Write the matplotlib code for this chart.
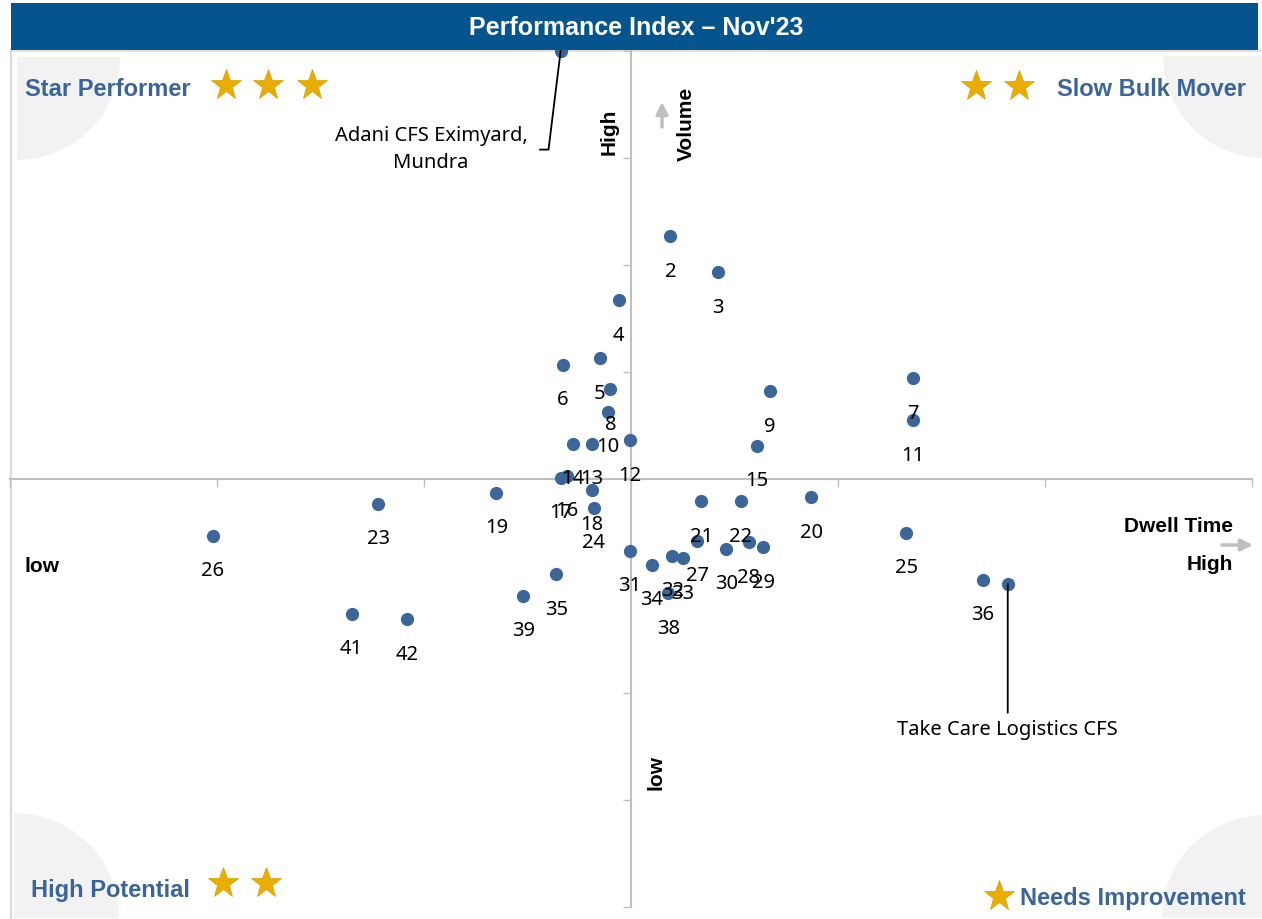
import matplotlib
matplotlib.use("Agg")
import matplotlib.pyplot as plt
from matplotlib.patches import Wedge, Rectangle

plt.rcParams['font.family'] = ['Liberation Sans', 'DejaVu Sans']

# Données (unités normalisées : temps de séjour / volume)
ids = ['2', '3', '4', '5', '6', '7', '8', '9', '10', '11', '12', '13', '14', '15',
       '16', '17', '18', '19', '20', '21', '22', '23', '24', '25', '26', '27', '28',
       '29', '30', '31', '32', '33', '34', '35', '36', '38', '39', '41', '42']
dwell = [0.19, 0.42, -0.06, -0.15, -0.33, 1.36, -0.10, 0.67, -0.11, 1.36, -0.005, -0.19,
         -0.28, 0.61, -0.31, -0.34, -0.19, -0.65, 0.87, 0.34, 0.53, -1.22, -0.18, 1.33,
         -2.02, 0.32, 0.57, 0.64, 0.46, -0.005, 0.20, 0.25, 0.10, -0.36, 1.70, 0.18,
         -0.52, -1.35, -1.08]
volume = [2.27, 1.93, 1.67, 1.13, 1.07, 0.94, 0.84, 0.82, 0.63, 0.55, 0.36, 0.33,
          0.33, 0.31, 0.03, 0.01, -0.10, -0.13, -0.17, -0.21, -0.21, -0.23, -0.27, -0.50,
          -0.53, -0.58, -0.59, -0.64, -0.65, -0.67, -0.72, -0.74, -0.80, -0.89, -0.94, -1.07,
          -1.09, -1.26, -1.31]

named = ['Adani CFS Eximyard,\nMundra', 'Take Care Logistics CFS']
named_dwell = [-0.34, 1.82]
named_volume = [4.0, -0.98]

bleu_point = '#3C6598'
bleu_texte = '#3B6598'
or_etoile = '#E8AD00'
gris = '#BFBFBF'

fig = plt.figure(figsize=(12.62, 9.19), dpi=100)

# Fond : coins gris et bordure (coordonnées en pixels)
fond = fig.add_axes([0, 0, 1, 1], zorder=0)
fond.set_xlim(0, 1262)
fond.set_ylim(919, 0)
fond.axis('off')
fond.add_patch(Wedge((17, 57), 103, 0, 90, color='#F2F2F2', lw=0))
fond.add_patch(Wedge((1265, 56), 102, 90, 180, color='#F2F2F2', lw=0))
fond.add_patch(Wedge((14, 918), 105, 270, 360, color='#F2F2F2', lw=0))
fond.add_patch(Wedge((1265, 918), 103, 180, 270, color='#F2F2F2', lw=0))
fond.plot([10.5, 10.5], [50, 919], color='#D9D9D9', lw=1.5)
fond.plot([10, 1262], [51, 51], color='#D9D9D9', lw=1.2)

# Graphique principal
ax = fig.add_axes([10 / 1262, 12 / 919, 1242 / 1262, 856 / 919], zorder=1)
ax.set_facecolor('none')
ax.set_xlim(-3, 3)
ax.set_ylim(-4, 4)
ax.spines['left'].set_position('zero')
ax.spines['bottom'].set_position('zero')
ax.spines['right'].set_visible(False)
ax.spines['top'].set_visible(False)
for s in ['left', 'bottom']:
    ax.spines[s].set_color(gris)
    ax.spines[s].set_linewidth(1.5)
ax.set_xticks(range(-3, 4))
ax.set_yticks(range(-4, 5))
ax.tick_params(direction='out', length=6, width=1, color=gris,
               labelbottom=False, labelleft=False)

ax.plot(dwell, volume, 'o', color=bleu_point, ms=8.5, clip_on=False, zorder=3)
ax.plot(named_dwell, named_volume, 'o', color=bleu_point, ms=8.5, clip_on=False, zorder=3)

for n, x, y in zip(ids, dwell, volume):
    ax.annotate(n, (x, y), xytext=(0, -25.5), textcoords='offset points',
                ha='center', va='center', fontsize=14.5, family='Noto Sans')

ax.annotate(named[0], (named_dwell[0], named_volume[0]), xytext=(-24, -71),
            textcoords='offset points', ha='right', va='center', multialignment='center',
            fontsize=14.5, family='Noto Sans', linespacing=1.45,
            arrowprops=dict(arrowstyle='-', color='black', lw=1.3, relpos=(1, 0.5),
                            shrinkA=7, shrinkB=0,
                            connectionstyle='angle,angleA=0,angleB=83'))
ax.annotate(named[1], (named_dwell[1], named_volume[1]), xytext=(0, -105),
            textcoords='offset points', ha='center', va='center',
            fontsize=14.5, family='Noto Sans',
            arrowprops=dict(arrowstyle='-', color='black', lw=1.3, shrinkA=3, shrinkB=0))

# Premier plan : titre, quadrants, libellés d'axes
devant = fig.add_axes([0, 0, 1, 1], zorder=2)
devant.set_xlim(0, 1262)
devant.set_ylim(919, 0)
devant.axis('off')
devant.set_facecolor('none')

devant.add_patch(Rectangle((11, 3), 1247, 47, color='#05548E', lw=0))
devant.text(636, 28, "Performance Index \u2013 Nov'23", color='white', fontsize=18,
            fontweight='bold', ha='center', va='center')

quad = dict(color=bleu_texte, fontsize=17, fontweight='bold', va='center')
devant.text(25, 89, 'Star Performer', ha='left', **quad)
devant.text(1246, 90, 'Slow Bulk Mover', ha='right', **quad)
devant.text(31, 890, 'High Potential', ha='left', **quad)
devant.text(1246, 898, 'Needs Improvement', ha='right', **quad)

etoile = dict(marker='*', color=or_etoile, ms=23, ls='none', mec='#D9A000', mew=0.5)
devant.plot([226, 268, 312], [85, 85, 85], **etoile)
devant.plot([976, 1019], [86, 86], **etoile)
devant.plot([223, 266], [883, 883], **etoile)
devant.plot([999], [896], **etoile)

lab = dict(color='black', fontsize=15, fontweight='bold', va='center')
devant.text(609, 132, 'High', rotation=90, ha='center', **lab)
devant.text(686, 124, 'Volume', rotation=90, ha='center', **lab)
devant.text(656, 773, 'low', rotation=90, ha='center', **lab)
devant.text(25, 566, 'low', ha='left', **lab)
devant.text(1233, 527, 'Dwell Time', ha='right', **lab)
devant.text(1233, 565, 'High', ha='right', **lab)

devant.annotate('', xy=(662, 102), xytext=(662, 127),
                arrowprops=dict(arrowstyle='-|>,head_width=0.35,head_length=0.7',
                                color=gris, lw=2.5, shrinkA=0, shrinkB=0))
devant.annotate('', xy=(1253, 545), xytext=(1222, 545),
                arrowprops=dict(arrowstyle='-|>,head_width=0.35,head_length=0.7',
                                color=gris, lw=2.5, shrinkA=0, shrinkB=0))

fig.savefig('out.png', dpi=100)
